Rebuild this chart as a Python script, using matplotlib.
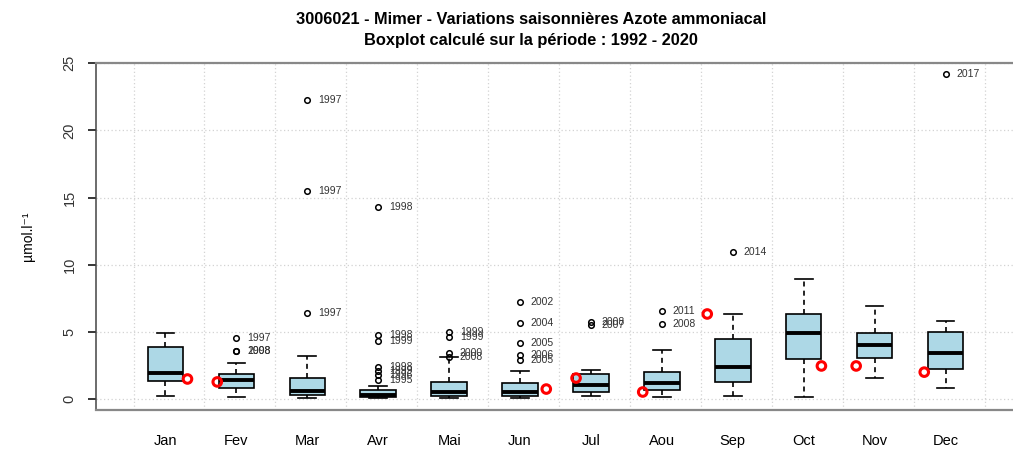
import matplotlib
matplotlib.use("Agg")
import matplotlib.pyplot as plt
import numpy as np

plt.rcParams['font.family'] = ['Liberation Sans', 'DejaVu Sans']

months = ["Jan", "Fev", "Mar", "Avr", "Mai", "Jun", "Jul", "Aou", "Sep", "Oct", "Nov", "Dec"]

# boxplot statistics (µmol/l)
whislo = [0.22, 0.15, 0.10, 0.05, 0.05, 0.10, 0.22, 0.15, 0.22, 0.15, 1.56, 0.82]
q1 = [1.34, 0.82, 0.30, 0.12, 0.22, 0.22, 0.52, 0.67, 1.27, 2.98, 3.05, 2.23]
med = [1.94, 1.41, 0.60, 0.32, 0.52, 0.52, 1.04, 1.19, 2.38, 4.91, 4.02, 3.43]
q3 = [3.87, 1.86, 1.59, 0.68, 1.27, 1.19, 1.86, 2.01, 4.47, 6.33, 4.91, 4.99]
whishi = [4.91, 2.68, 3.20, 1.00, 3.10, 2.08, 2.16, 3.65, 6.33, 8.94, 6.92, 5.81]

# outliers and their years
out_vals = [
    [],
    [4.54, 3.57, 3.55],
    [22.26, 15.49, 6.37],
    [14.30, 4.77, 4.32, 2.35, 2.05, 1.75, 1.45],
    [5.00, 4.60, 3.40, 3.15],
    [7.22, 5.66, 4.17, 3.28, 2.90],
    [5.73, 5.51],
    [6.55, 5.58],
    [10.95],
    [],
    [],
    [24.20],
]
out_years = [
    [],
    ["1997", "1998", "2008"],
    ["1997", "1997", "1997"],
    ["1998", "1998", "1999", "1998", "1999", "1996", "1995"],
    ["1999", "1999", "2000", "2008"],
    ["2002", "2004", "2005", "2006", "2005"],
    ["2008", "2007"],
    ["2011", "2008"],
    ["2014"],
    [],
    [],
    ["2017"],
]

# current year observations (red), position within the month
obs_x = [1.31, 1.73, 6.37, 6.79, 7.73, 8.64, 10.25, 10.74, 11.70]
obs_val = [1.49, 1.27, 0.74, 1.56, 0.52, 6.33, 2.46, 2.46, 2.00]

stats = []
for i in range(len(months)):
    stats.append(dict(whislo=whislo[i], q1=q1[i], med=med[i], q3=q3[i],
                      whishi=whishi[i], fliers=out_vals[i], label=months[i]))

fig = plt.figure(figsize=(10.13, 4.5), dpi=100)
ax = fig.add_axes([96 / 1013, 1 - 410 / 450, (1015 - 96) / 1013, (410 - 63) / 450])

# grid first
for gx in np.arange(0.55, 13, 1.0):
    ax.axvline(gx, color="#d3d3d3", linestyle=(0, (1, 2)), linewidth=0.9, zorder=0)
for gy in range(0, 26, 5):
    ax.axhline(gy, color="#d3d3d3", linestyle=(0, (1, 2)), linewidth=0.9, zorder=0)

pos = np.arange(1, len(months) + 1)
ax.bxp(stats, positions=pos, widths=0.5, patch_artist=True, showfliers=True,
       boxprops=dict(facecolor="#add8e6", edgecolor="black", linewidth=1.2),
       medianprops=dict(color="black", linewidth=2.8),
       whiskerprops=dict(color="black", linestyle=(0, (3, 2.5)), linewidth=1.2),
       capprops=dict(color="black", linewidth=1.2),
       capwidths=0.25,
       flierprops=dict(marker="o", markersize=4, markerfacecolor="none",
                       markeredgecolor="black", markeredgewidth=1.1))

for i in range(len(months)):
    for v, yr in zip(out_vals[i], out_years[i]):
        ax.text(pos[i] + 0.15, v, yr, fontsize=7.5, color="#333333", va="center", ha="left")

ax.scatter(obs_x, obs_val, s=38, facecolors="none", edgecolors="#ff0000", linewidths=2.2, zorder=5)

ax.set_xlim(0.02, 12.98)
ax.set_ylim(-0.82, 25.02)

ax.set_xticks(pos)
ax.set_xticklabels(months, fontsize=10.5)
ax.tick_params(axis="x", length=0, pad=17)
ax.set_yticks(range(0, 26, 5))
ax.set_yticklabels([str(v) for v in range(0, 26, 5)], rotation=90, va="center", fontsize=10.5, color="#333333")
ax.tick_params(axis="y", length=6, width=1.1, pad=8)

for s in ["top", "bottom"]:
    ax.spines[s].set_color("#888888")
    ax.spines[s].set_linewidth(1.6)
ax.spines["left"].set_color("#444444")
ax.spines["left"].set_linewidth(1.1)
ax.spines["right"].set_visible(False)

ax.set_ylabel("µmol.l⁻¹", fontsize=10, labelpad=20)

fig.text(531 / 1013, 1 - 19 / 450, "3006021 - Mimer - Variations saisonnières Azote ammoniacal",
         ha="center", va="center", fontsize=11.8, fontweight="bold")
fig.text(531 / 1013, 1 - 40 / 450, "Boxplot calculé sur la période : 1992 - 2020",
         ha="center", va="center", fontsize=11.8, fontweight="bold")

fig.savefig("out.png", dpi=100)
